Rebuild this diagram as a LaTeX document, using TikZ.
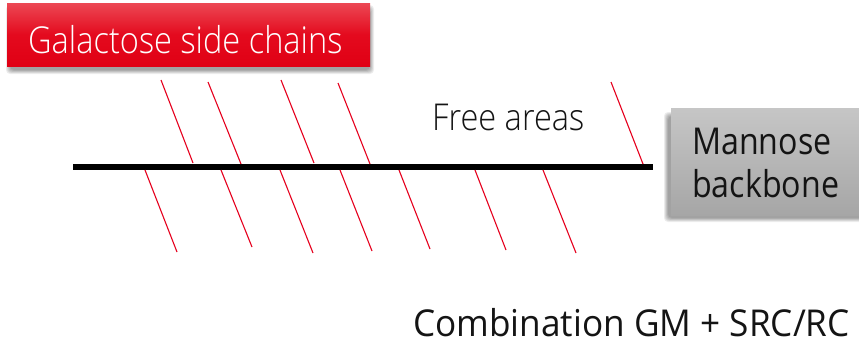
\documentclass[tikz,border=0pt]{standalone}
\usepackage{fontspec}
\setmainfont{Open Sans}[FakeStretch=0.87]
\newfontfamily\lightfont{Open Sans Light}[FakeStretch=0.88]
\newfontfamily\widefont{Open Sans}[FakeStretch=0.95]
\definecolor{chainred}{RGB}{230,0,30}
\definecolor{boxredtop}{RGB}{236,72,84}
\definecolor{boxredmid}{RGB}{228,10,30}
\definecolor{boxredbot}{RGB}{224,0,20}
\definecolor{boxgraytop}{RGB}{198,198,198}
\definecolor{boxgraybot}{RGB}{166,166,166}
\definecolor{inktext}{RGB}{20,20,20}
\tikzset{
  chain/.style={draw=chainred, line width=1.1pt},
  backbone/.style={draw=black, line width=6pt},
  label/.style={anchor=base west, inner sep=0pt, font=\fontsize{37}{40}\selectfont, text=inktext},
  redbox/.style={rectangle, inner sep=0pt, top color=boxredtop, bottom color=boxredbot, middle color=boxredmid},
  graybox/.style={rectangle, inner sep=0pt, top color=boxgraytop, bottom color=boxgraybot},
}
% soft shadow built from stacked translucent rectangles
\newcommand{\softshade}[4]{%
  \foreach \k in {0,...,5}{%
    \fill[black, opacity=0.07, rounded corners=4pt]
      ({#1+\k*0.8},{#2+\k*0.8}) rectangle ({#3-\k*0.8},{#4-\k*0.8});
  }%
}
\begin{document}
\begin{tikzpicture}[x=1pt, y=-1pt]
  \clip (0,0) rectangle (859,348);
  \fill[white] (0,0) rectangle (859,348);

  % shadows under the two boxes
  \softshade{6}{5}{374}{74}
  \softshade{664}{112}{880}{222}

  % title box for the side chains
  \node[redbox, minimum width=363pt, minimum height=63pt] (galbox) at (188.5,34.5) {};
  \node[label, text=white, font=\lightfont\fontsize{37}{40}\selectfont] (galtext) at (28,53) {Galactose side chains};

  % box for the backbone
  \node[graybox, minimum width=220pt, minimum height=107pt] (manbox) at (781,161.5) {};
  \node[label] (mantext) at (692,154) {Mannose};
  \node[label] (bbtext) at (692,197) {backbone};

  % backbone line
  \coordinate (bbL) at (73,167);
  \coordinate (bbR) at (653,167);
  \draw[backbone] (bbL) -- (bbR);

  % side chains above the backbone
  \foreach \xa/\ya/\xb/\yb in {161/80/193/163, 208/82/241/164, 281/80/314/163, 338/83/370/164, 611/82/643/164}
    \draw[chain] (\xa,\ya) -- (\xb,\yb);
  % side chains below the backbone
  \foreach \xa/\xb/\yb in {145/177/252, 221/252/247, 280/313/253, 340/372/251, 399/430/249, 475/506/250, 543/576/253}
    \draw[chain] (\xa,170) -- (\xb,\yb);

  \node[label, font=\lightfont\fontsize{37}{40}\selectfont] (free) at (432,130) {Free areas};
  \node[label, font=\widefont\fontsize{37}{40}\selectfont] (combo) at (413,336) {Combination GM + SRC/RC};
\end{tikzpicture}
\end{document}
